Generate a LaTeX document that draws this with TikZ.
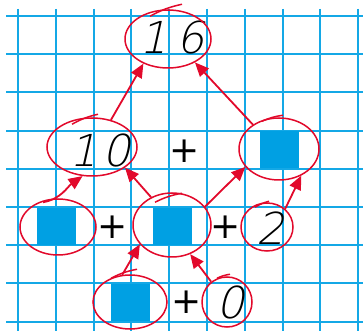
\documentclass[tikz,border=0pt]{standalone}
\usepackage{fontspec}
\usetikzlibrary{shapes.geometric, arrows.meta, calc}
\newfontfamily\handfont[FakeSlant=0.22]{DejaVu Sans ExtraLight}
\newfontfamily\signfont{DejaVu Sans}
\definecolor{gridline}{HTML}{14A8E6}
\definecolor{cell}{HTML}{00A0E3}
\definecolor{pen}{HTML}{E2092B}

\begin{document}
\begin{tikzpicture}[x=1pt, y=1pt,
  gridln/.style={draw=gridline, line width=2pt},
  ring/.style={draw=pen, line width=1.5pt, ellipse, inner sep=0pt},
  link/.style={draw=pen, line width=1.8pt, -{Triangle[length=14pt, width=12pt]}},
  box/.style={fill=cell, minimum width=39pt, minimum height=37pt, inner sep=0pt},
  digit/.style={font=\handfont\fontsize{44}{44}\selectfont, inner sep=0pt},
  sign/.style={font=\signfont\fontsize{36}{36}\selectfont, inner sep=0pt}]
\useasboundingbox[fill=white] (0,0) rectangle (363,331);

% squared paper
\foreach \k in {0,...,8}
  \draw[gridln] (6,{315-38.2*\k}) -- (363,{315-38.2*\k});
\foreach \k in {0,...,9}
  \draw[gridln] ({18+37.8*\k},322) -- ({18+37.8*\k},0);

% blue cells
\node[box] (cR) at (279.5,181) {};
\node[box] (cL) at (56,104.5) {};
\node[box] (cM) at (172.5,104.5) {};
\node[box] (cB) at (130.5,28.5) {};

% numbers and signs
\node[digit] (t16) at (172,294) {1\hspace{9pt}6};
\node[digit] (t10) at (100,181) {1\hspace{6pt}0};
\node[digit] (t2) at (270,103) {2};
\node[digit] (t0) at (230,29) {0};
\node[sign] (p1) at (185,180) {+};
\node[sign] (p2) at (113,104) {+};
\node[sign] (p3) at (226,104) {+};
\node[sign] (p4) at (187,29) {+};

% circled answers
\node[ring, minimum width=86pt, minimum height=58pt] (n16) at (168,292) {};
\node[ring, minimum width=90pt, minimum height=58pt] (n10) at (92,184) {};
\node[ring, minimum width=80pt, minimum height=62pt] (bR) at (279,182) {};
\node[ring, minimum width=76pt, minimum height=56pt] (bL) at (58,104) {};
\node[ring, minimum width=78pt, minimum height=64pt] (bM) at (172,106) {};
\node[ring, minimum width=52pt, minimum height=48pt] (n2) at (267,104) {};
\node[ring, minimum width=74pt, minimum height=54pt] (bB) at (130,29) {};
\node[ring, minimum width=50pt, minimum height=50pt] (n0) at (227,29) {};

% pen overshoot at the top of each ring
\foreach \n/\a/\b in {n16/{-18,-7}/{14,5}, n10/{-20,-7}/{6,3}, bR/{-17,-4}/{4,2},
    bM/{-17,-10}/{10,-1}, n2/{-12,-5}/{2,1}, bB/{-19,-4}/{7,5}, n0/{-10,-2}/{3,2}}
  \draw[draw=pen, line width=1.5pt] ($(\n.north)+(\a)$) to[bend left=8] ($(\n.north)+(\b)$);

% arrows
\draw[link] (n10.55) -- (n16.225);
\draw[link] (bR.137) -- (n16.319);
\draw[link] ($(bL.north)+(-15,-4)$) to[out=10, in=215] (n10.252);
\draw[link] (bM.127) -- (n10.328);
\draw[link] (bM.29) -- (bR.208);
\draw[link] (n2.45) -- (bR.310);
\draw[link] (bB.106) -- (bM.211);
\draw[link] (n0.128) -- (bM.302);
\end{tikzpicture}
\end{document}
